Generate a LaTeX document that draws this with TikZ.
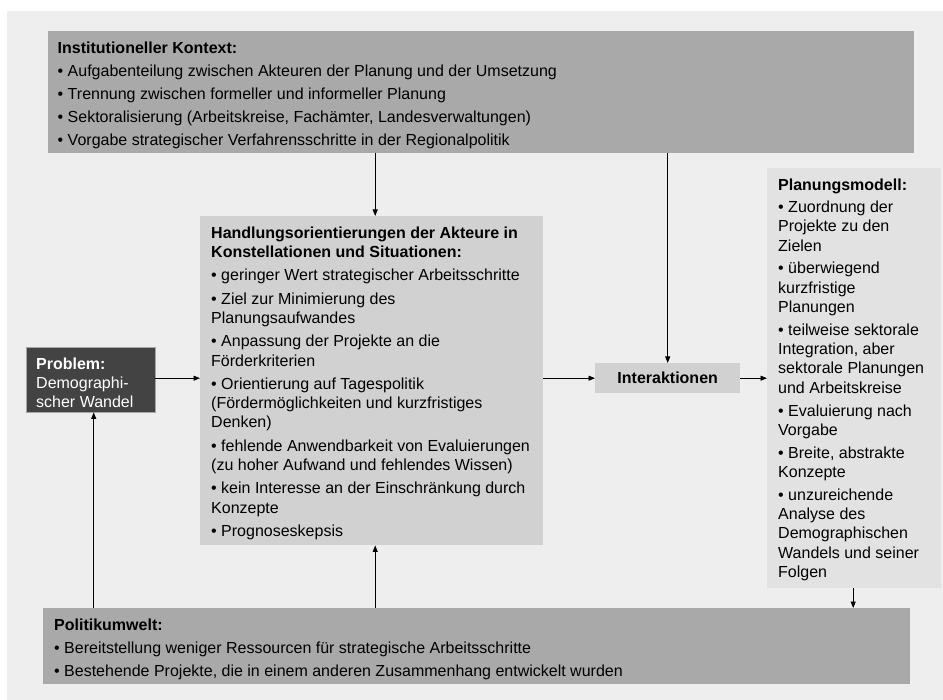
\documentclass[tikz,border=0pt]{standalone}
\usepackage{fontspec}
\setmainfont{Liberation Sans}
\usetikzlibrary{arrows.meta}

\definecolor{canvas}{HTML}{EEEEEE}
\definecolor{framegray}{HTML}{A9A9A9}
\definecolor{coregray}{HTML}{D1D1D1}
\definecolor{modelgray}{HTML}{E2E2E2}
\definecolor{problemgray}{HTML}{434343}

\begin{document}
\begin{tikzpicture}[x=1pt,y=-1pt,
  panel/.style={anchor=north west, inner sep=0pt, draw=none},
  txt/.style={anchor=north west, inner sep=0pt, align=left,
    font=\fontsize{16}{19.3}\selectfont},
  link/.style={-{Triangle[length=6.5pt,width=5pt]}, line width=0.8pt, black}
]
\useasboundingbox (0,0) rectangle (943,700);
\fill[white] (0,0) rectangle (943,700);
\fill[canvas] (7,11) rectangle (943,700);

% boxes
\node[panel, fill=framegray, minimum width=866pt, minimum height=122pt] (ctx) at (48,31) {};
\node[panel, fill=framegray, minimum width=867pt, minimum height=76pt] (pol) at (43,608) {};
\node[panel, fill=problemgray, draw=gray!70, minimum width=129pt, minimum height=65pt] (prob) at (26,347) {};
\node[panel, fill=coregray, minimum width=343pt, minimum height=329pt] (core) at (200,216) {};
\node[panel, fill=coregray, minimum width=145pt, minimum height=30pt,
  font=\fontsize{16}{19.3}\selectfont\bfseries] (inter) at (595,363) {};
\node[font=\fontsize{16}{19.3}\selectfont\bfseries] (intertext) at (inter.center) {Interaktionen};
\node[panel, fill=modelgray, minimum width=174pt, minimum height=420pt] (model) at (767,168) {};

% texts
\node[txt] (ctxtext) at (57.5,39) {\rule{0pt}{14pt}\textbf{Institutioneller Kontext:}\\[3.7pt]
• Aufgabenteilung zwischen Akteuren der Planung und der Umsetzung\\[3.7pt]
• Trennung zwischen formeller und informeller Planung\\[3.7pt]
• Sektoralisierung (Arbeitskreise, Fachämter, Landesverwaltungen)\\[3.7pt]
• Vorgabe strategischer Verfahrensschritte in der Regionalpolitik};

\node[txt] (coretext) at (211,224) {\rule{0pt}{14pt}\textbf{Handlungsorientierungen der Akteure in}\\
\textbf{Konstellationen und Situationen:}\\[4pt]
• geringer Wert strategischer Arbeitsschritte\\[4pt]
• Ziel zur Minimierung des\\
Planungsaufwandes\\[4pt]
• Anpassung der Projekte an die\\
Förderkriterien\\[4pt]
• Orientierung auf Tagespolitik\\
(Fördermöglichkeiten und kurzfristiges\\
Denken)\\[4pt]
• fehlende Anwendbarkeit von Evaluierungen\\
(zu hoher Aufwand und fehlendes Wissen)\\[4pt]
• kein Interesse an der Einschränkung durch\\
Konzepte\\[4pt]
• Prognoseskepsis};

\node[txt] (modeltext) at (778,176) {\rule{0pt}{14pt}\textbf{Planungsmodell:}\\[3pt]
• Zuordnung der\\
Projekte zu den\\
Zielen\\[3.5pt]
• überwiegend\\
kurzfristige\\
Planungen\\[3.5pt]
• teilweise sektorale\\
Integration, aber\\
sektorale Planungen\\
und Arbeitskreise\\[3.5pt]
• Evaluierung nach\\
Vorgabe\\[3.5pt]
• Breite, abstrakte\\
Konzepte\\[3.5pt]
• unzureichende\\
Analyse des\\
Demographischen\\
Wandels und seiner\\
Folgen};

\node[txt] (poltext) at (54,616) {\rule{0pt}{14pt}\textbf{Politikumwelt:}\\[3.7pt]
• Bereitstellung weniger Ressourcen für strategische Arbeitsschritte\\[3.7pt]
• Bestehende Projekte, die in einem anderen Zusammenhang entwickelt wurden};

\node[txt, text=white] (probtext) at (36,355) {\rule{0pt}{14pt}\textbf{Problem:}\\
Demographi-\\
scher Wandel};

% connectors
\draw[link] ([xshift=3.5pt]core.north |- ctx.south) -- ([xshift=3.5pt]core.north);
\draw[link] (inter.north |- ctx.south) -- (inter.north);
\draw[link] ([xshift=3.5pt]core.south |- pol.north) -- ([xshift=3.5pt]core.south);
\draw[link] ([xshift=3pt]prob.south |- pol.north) -- ([xshift=3pt]prob.south);
\draw[link] (prob.east |- inter.west) -- (core.west |- inter.west);
\draw[link] (core.east |- inter.west) -- (inter.west);
\draw[link] (inter.east) -- (model.west |- inter.east);
\draw[link] ([xshift=-1pt]model.south) -- ([xshift=-1pt]model.south |- pol.north);
\end{tikzpicture}
\end{document}
